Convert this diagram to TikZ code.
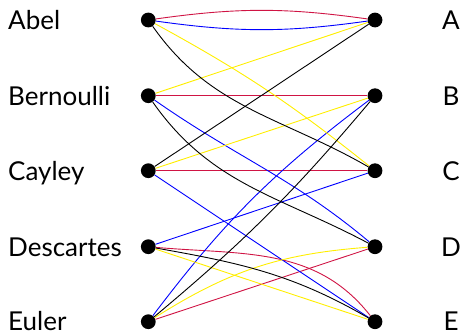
\documentclass[tikz,border=0pt]{standalone}
\usepackage{fontspec}
\setmainfont{Lato}
\definecolor{ered}{RGB}{208,20,68}
\definecolor{eblue}{RGB}{0,0,255}
\definecolor{eyellow}{RGB}{255,238,0}
\tikzset{
  dot/.style={circle, fill=black, inner sep=0pt, minimum size=14.8pt},
  lab/.style={inner sep=0pt, font=\fontsize{26}{30}\selectfont},
  edge/.style={line width=0.9pt},
  er/.style={edge, draw=ered},
  eb/.style={edge, draw=eblue},
  ey/.style={edge, draw=eyellow},
  ek/.style={edge, draw=black},
}
\begin{document}
\begin{tikzpicture}[x=1pt, y=1pt]
\useasboundingbox (0,0) rectangle (462,-335);

% left column
\node[dot] (a1) at (148.3,-20.0)  {};
\node[dot] (b1) at (148.3,-95.7)  {};
\node[dot] (c1) at (148.3,-170.7) {};
\node[dot] (d1) at (148.3,-246.7) {};
\node[dot] (e1) at (148.3,-321.7) {};
% right column
\node[dot] (a2) at (375,-20.0)  {};
\node[dot] (b2) at (375,-95.7)  {};
\node[dot] (c2) at (375,-170.7) {};
\node[dot] (d2) at (375,-246.7) {};
\node[dot] (e2) at (375,-321.7) {};

% labels
\node[lab, anchor=base west] (la) at (8,-29.5)  {Abel};
\node[lab, anchor=base west] (lb) at (8,-105.2) {Bernoulli};
\node[lab, anchor=base west] (lc) at (8,-180.2) {Cayley};
\node[lab, anchor=base west] (ld) at (8,-256.2) {Descartes};
\node[lab, anchor=base west] (le) at (8,-330.5) {Euler};
\node[lab, anchor=base] (ra) at (451,-29.5)  {A};
\node[lab, anchor=base] (rb) at (451,-105.2) {B};
\node[lab, anchor=base] (rc) at (451,-180.2) {C};
\node[lab, anchor=base] (rd) at (451,-256.2) {D};
\node[lab, anchor=base] (re) at (451,-330.5) {E};

% red matching
\draw[er] (a1) to[bend left=8] (a2);
\draw[er] (b1) -- (b2);
\draw[er] (c1) -- (c2);
\draw[er] (d1) to[out=-5, in=128] (e2);
\draw[er] (e1) -- (d2);

% blue matching
\draw[eb] (a1) to[bend right=8] (a2);
\draw[eb] (b1) to[out=-35, in=140] (d2);
\draw[eb] (c1) -- (e2);
\draw[eb] (d1) -- (c2);
\draw[eb] (e1) to[bend left=8] (b2);

% yellow matching
\draw[ey] (a1) to[bend left=5] (c2);
\draw[ey] (b1) -- (a2);
\draw[ey] (c1) -- (b2);
\draw[ey] (d1) -- (e2);
\draw[ey] (e1) to[bend left=14] (d2);

% black matching
\draw[ek] (a1) to[out=-55, in=150] (c2);
\draw[ek] (b1) to[out=-55, in=152] (d2);
\draw[ek] (c1) -- (a2);
\draw[ek] (d1) to[out=-10, in=150] (e2);
\draw[ek] (e1) to[bend right=5] (b2);
\end{tikzpicture}
\end{document}
